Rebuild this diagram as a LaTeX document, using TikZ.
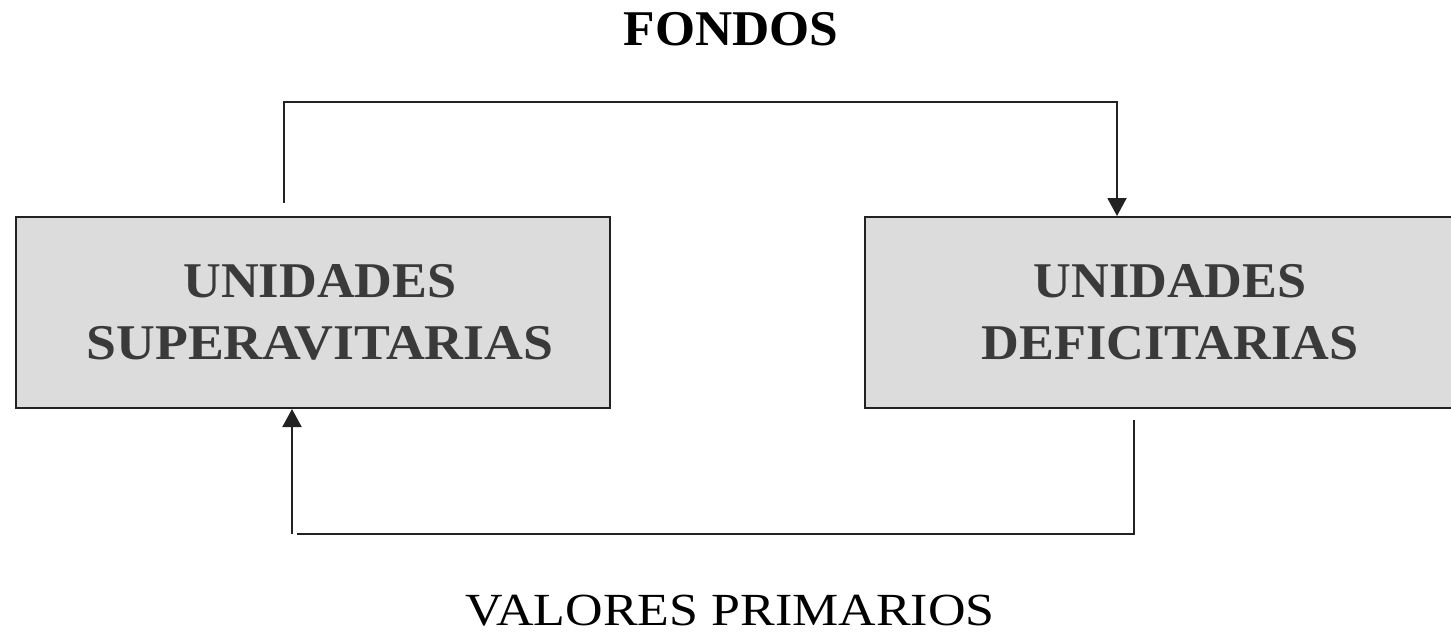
\documentclass[tikz,border=0pt]{standalone}
\usepackage{fontspec}
\setmainfont{Liberation Serif}
\usetikzlibrary{arrows.meta}
\definecolor{boxfill}{HTML}{DCDCDC}
\definecolor{boxtext}{HTML}{3A3A3A}
\definecolor{lineclr}{HTML}{222222}
\newcommand{\wide}[2]{\scalebox{#1}[1]{#2}}
\begin{document}
\begin{tikzpicture}[x=1pt,y=-1pt,
  unitbox/.style={draw=lineclr,line width=2pt,fill=boxfill,rectangle,inner sep=0pt,
    text=boxtext,font=\fontsize{50}{62}\selectfont\bfseries,align=center},
  conn/.style={draw=lineclr,line width=2pt},
  tip/.style={-{Triangle[length=18pt,width=19pt]}}]
\useasboundingbox (0,0) rectangle (1451,633);
\node[unitbox,minimum width=594pt,minimum height=191pt] (sup) at (313,312.5)
  {\hspace*{14pt}\wide{1.045}{UNIDADES}\\\hspace*{14pt}\wide{1.075}{SUPERAVITARIAS}};
\node[unitbox,minimum width=592pt,minimum height=191pt,anchor=west] (def) at (864,312.5)
  {\hspace*{18pt}\wide{1.045}{UNIDADES}\\\hspace*{18pt}\wide{1.045}{DEFICITARIAS}};
\node[font=\fontsize{50}{60}\selectfont\bfseries,anchor=base] (fondos) at (731,45) {\wide{1.03}{FONDOS}};
\node[font=\fontsize{46}{56}\selectfont,anchor=base] (valores) at (730,625) {\wide{1.13}{VALORES PRIMARIOS}};
\coordinate (t0) at (284,203);
\coordinate (b0) at (1134,420);
\coordinate (b1) at (297,534);
\coordinate (b2) at (292,534);
\draw[conn,tip] (t0) -- (284,102) -| (def.north -| 1117,0);
\draw[conn] (b0) |- (b1);
\draw[conn,tip] (b2) -- (sup.south -| b2);
\end{tikzpicture}
\end{document}
